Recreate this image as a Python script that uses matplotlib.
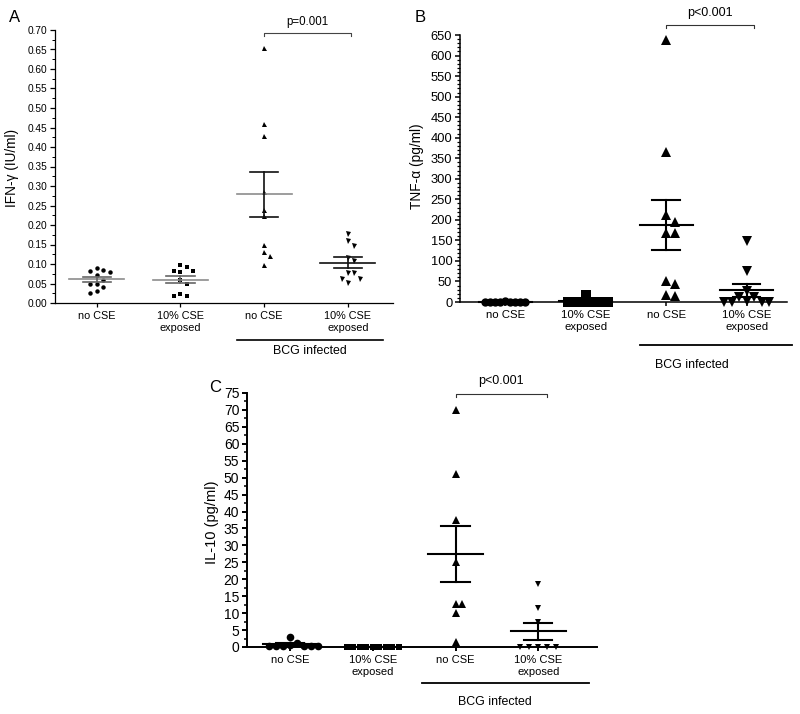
import numpy as np
import matplotlib.pyplot as plt
from matplotlib.ticker import MultipleLocator, FormatStrFormatter

plt.rcParams['font.family'] = ['Liberation Sans', 'DejaVu Sans']

# the same four groups in every panel
categories = ['no CSE', '10% CSE\nexposed', 'no CSE', '10% CSE\nexposed']
infected_label = 'BCG infected'

# A - IFN-gamma (IU/ml)
ifn_no_cse = [0.091, 0.085, 0.081, 0.079, 0.073, 0.059, 0.050, 0.050, 0.042, 0.032, 0.026]
ifn_cse = [0.098, 0.092, 0.082, 0.082, 0.080, 0.058, 0.048, 0.022, 0.019, 0.019]
ifn_bcg = [0.655, 0.460, 0.427, 0.285, 0.238, 0.222, 0.150, 0.130, 0.120, 0.097]
ifn_bcg_cse = [0.176, 0.159, 0.146, 0.116, 0.108, 0.076, 0.076, 0.062, 0.062, 0.052]

# B - TNF-alpha (pg/ml)
tnf_no_cse = [0, 0, 0, 1, 3, 1, 0, 0, 0]
tnf_cse = [16, 0, 0, 0, 0, 0, 0, 0, 0, 0, 0]
tnf_bcg = [638, 364, 212, 194, 169, 167, 50, 44, 18, 14]
tnf_bcg_cse = [148, 76, 27, 13, 11, 2, 1, 1, 1, 1]

# C - IL-10 (pg/ml)
il10_no_cse = [3.1, 1.2, 0.6, 0.3, 0.3, 0.3, 0.3, 0.3, 0.3]
il10_cse = [0, 0, 0, 0, 0, 0, 0, 0, 0]
il10_bcg = [70, 51, 37.5, 25, 12.7, 12.7, 10, 1.4]
il10_bcg_cse = [18.5, 11.5, 7.5, 0, 0, 0, 0, 0]

p_labels = ['p=0.001', 'p<0.001', 'p<0.001']
markers = ['o', 's', '^', 'v']


def swarm_x(ax, pos, vals, gap):
    # push points sideways (pixel gap) so the markers don't sit on each other
    tr = ax.transData
    ypx = tr.transform(np.column_stack([np.full(len(vals), pos), vals]))[:, 1]
    px_unit = tr.transform([(1, 0)])[0, 0] - tr.transform([(0, 0)])[0, 0]
    placed = []
    xs = np.zeros(len(vals))
    for i in np.argsort(-ypx, kind='stable'):
        k = 0
        found = None
        while found is None:
            cands = [0.0] if k == 0 else [k * gap, -k * gap]
            for c in cands:
                if all((c - px) ** 2 + (ypx[i] - py) ** 2 >= 0.98 * gap ** 2 for px, py in placed):
                    found = c
                    break
            k += 1
        placed.append((found, ypx[i]))
        xs[i] = pos + found / px_unit
    return xs


def draw_panel(ax, data, msize, gaps, mean_col, sem_col, lw):
    for i, vals in enumerate(data):
        pos = i + 1
        vals = np.asarray(vals, float)
        xs = swarm_x(ax, pos, vals, gaps[i])
        ax.plot(xs, vals, ls='none', marker=markers[i], ms=msize[i], color='black',
                mew=0, clip_on=False, zorder=3)
        m = vals.mean()
        se = vals.std(ddof=1) / np.sqrt(len(vals))
        ax.plot([pos - 0.33, pos + 0.33], [m, m], color=mean_col[i], lw=lw, clip_on=False, zorder=4)
        for yy in (m - se, m + se):
            ax.plot([pos - 0.17, pos + 0.17], [yy, yy], color=sem_col[i], lw=lw, clip_on=False, zorder=4)
        ax.plot([pos, pos], [m - se, m + se], color=sem_col[i], lw=lw, clip_on=False, zorder=4)


def setup_axes(ax, xlim, ylim, step, minor, fmt, tick_fs, cat_fs, spine_lw):
    ax.set_xlim(*xlim)
    ax.set_ylim(*ylim)
    for s in ['top', 'right']:
        ax.spines[s].set_visible(False)
    for s in ['left', 'bottom']:
        ax.spines[s].set_linewidth(spine_lw)
    ax.yaxis.set_major_locator(MultipleLocator(step))
    ax.yaxis.set_minor_locator(MultipleLocator(minor))
    ax.yaxis.set_major_formatter(FormatStrFormatter(fmt))
    ax.set_xticks([1, 2, 3, 4])
    ax.set_xticklabels(categories, fontsize=cat_fs)
    ax.tick_params(axis='y', which='major', length=3.5, width=spine_lw, labelsize=tick_fs, pad=2)
    ax.tick_params(axis='y', which='minor', length=2, width=spine_lw * 0.8)
    ax.tick_params(axis='x', length=3, width=spine_lw, pad=3)


def annotate(ax, ptext, x_end, y_br, y_txt, fs, bcg_x, bcg_y, bcg_txt_x, bcg_txt_y, bcg_fs, col, lw):
    tr = ax.get_xaxis_transform()
    ax.plot([3, 3, x_end, x_end], [y_br - 0.011, y_br, y_br, y_br - 0.011], color=col, lw=0.8,
            transform=tr, clip_on=False)
    ax.text((3 + x_end) / 2, y_txt, ptext, transform=tr, ha='center', va='center', fontsize=fs)
    ax.plot(bcg_x, [bcg_y, bcg_y], color='black', lw=lw, transform=tr, clip_on=False)
    ax.text(bcg_txt_x, bcg_txt_y, infected_label, transform=tr, ha='center', va='center', fontsize=bcg_fs)


fig = plt.figure(figsize=(8, 7.14), dpi=100)

# panel A
axA = fig.add_axes([55 / 800, 1 - 303 / 714, 338 / 800, 273 / 714])
setup_axes(axA, (0.50, 4.54), (0, 0.70), 0.05, 0.025, '%.2f', 7.3, 7.8, 0.9)
draw_panel(axA, [ifn_no_cse, ifn_cse, ifn_bcg, ifn_bcg_cse], [3.2, 3.2, 3.6, 3.6], [6.5, 6.5, 6, 6],
           ['#8c8c8c', '#8c8c8c', '#8c8c8c', '#111111'], ['#666666', '#666666', '#111111', '#111111'], 1.2)
annotate(axA, p_labels[0], 4.04, 0.989, 1.03, 8.3, [2.68, 4.42], -0.136, 3.55, -0.176, 8.9, '#444444', 1.2)
fig.text(12 / 800, 1 - 168 / 714, 'IFN-\u03b3 (IU/ml)', rotation=90, ha='center', va='center', fontsize=9.8)
fig.text(9 / 800, 1 - 17 / 714, 'A', ha='left', va='center', fontsize=12)

# panel B
axB = fig.add_axes([460 / 800, 1 - 302 / 714, 327 / 800, 267 / 714])
setup_axes(axB, (0.44, 4.50), (0, 650), 50, 10, '%d', 9.3, 8.2, 1.1)
draw_panel(axB, [tnf_no_cse, tnf_cse, tnf_bcg, tnf_bcg_cse], [6, 6.5, 6.5, 6.5], [5, 4.5, 9, 7.5],
           ['black'] * 4, ['black'] * 4, 1.5)
annotate(axB, p_labels[1], 4.09, 1.037, 1.082, 9, [2.68, 4.56], -0.161, 3.32, -0.236, 8.9, '#333333', 1.3)
fig.text(417 / 800, 1 - 166 / 714, 'TNF-\u03b1 (pg/ml)', rotation=90, ha='center', va='center', fontsize=9.8)
fig.text(415 / 800, 1 - 17 / 714, 'B', ha='left', va='center', fontsize=12)

# panel C
axC = fig.add_axes([247 / 800, 1 - 647 / 714, 350 / 800, 254 / 714])
setup_axes(axC, (0.48, 4.71), (0, 75), 5, 2.5, '%d', 10, 8, 1.4)
draw_panel(axC, [il10_no_cse, il10_cse, il10_bcg, il10_bcg_cse], [5.5, 5, 5.5, 5], [7, 6.5, 6, 9],
           ['black'] * 4, ['black'] * 4, 1.5)
annotate(axC, p_labels[2], 4.11, 0.996, 1.047, 9, [2.59, 4.61], -0.142, 3.48, -0.217, 8.9, '#333333', 1.3)
fig.text(212 / 800, 1 - 522 / 714, 'IL-10 (pg/ml)', rotation=90, ha='center', va='center', fontsize=10.5)
fig.text(209 / 800, 1 - 387 / 714, 'C', ha='left', va='center', fontsize=12)

fig.savefig('out.png', dpi=100)
